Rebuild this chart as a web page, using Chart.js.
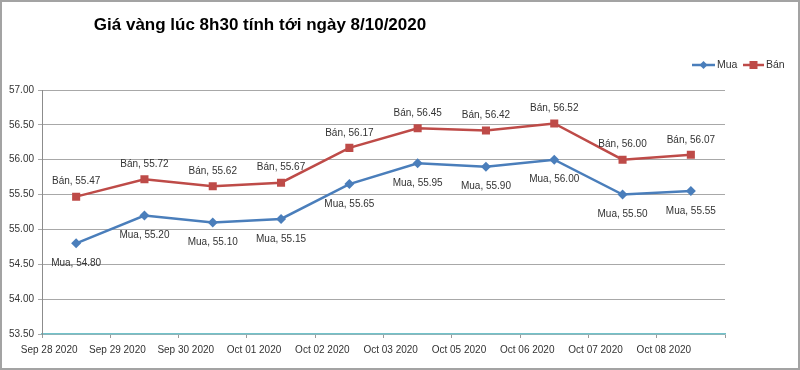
<!DOCTYPE html>
<html lang="vi">
<head>
<meta charset="utf-8">
<title>Giá vàng lúc 8h30</title>
<script src="https://cdn.jsdelivr.net/npm/chart.js@4.4.1/dist/chart.umd.min.js"></script>
<style>
  html, body { margin: 0; padding: 0; background: #fff; }
  #wrap { position: relative; width: 800px; height: 370px; }
  #frame { position: absolute; inset: 0; border: 2px solid #a3a3a3; box-sizing: border-box; pointer-events: none; }
</style>
</head>
<body>
<div id="wrap"><canvas id="gia"></canvas><div id="frame"></div></div>
<script>
// dữ liệu
const ngay = ['Sep 28 2020', 'Sep 29 2020', 'Sep 30 2020', 'Oct 01 2020', 'Oct 02 2020',
              'Oct 03 2020', 'Oct 05 2020', 'Oct 06 2020', 'Oct 07 2020', 'Oct 08 2020'];
const mua = [54.80, 55.20, 55.10, 55.15, 55.65, 55.95, 55.90, 56.00, 55.50, 55.55];
const ban = [55.47, 55.72, 55.62, 55.67, 56.17, 56.45, 56.42, 56.52, 56.00, 56.07];
const yMin = 53.5, yMax = 57.0, yStep = 0.5;

const tieuDe = 'Giá vàng lúc 8h30 tính tới ngày 8/10/2020';
const FONT = "'Liberation Sans', Arial, sans-serif";
const XANH = '#4a7ebb', DO = '#be4b48', CHU = '#333333';

// nhãn dữ liệu kiểu Excel: "Mua, 54.80" dưới điểm, "Bán, 55.47" trên điểm
const nhanDuLieu = {
  id: 'nhanDuLieu',
  afterDatasetsDraw(chart) {
    const ctx = chart.ctx;
    ctx.save();
    ctx.font = '10px ' + FONT;
    ctx.fillStyle = CHU;
    ctx.textAlign = 'center';
    ctx.textBaseline = 'middle';
    chart.data.datasets.forEach((ds, i) => {
      chart.getDatasetMeta(i).data.forEach((pt, j) => {
        const dy = ds.label === 'Mua' ? 20 : -15;
        ctx.fillText(ds.label + ', ' + ds.data[j].toFixed(2), pt.x, pt.y + dy);
      });
    });
    ctx.restore();
  }
};

// tiêu đề + chú giải vẽ tay (đường có điểm đánh dấu ở giữa)
const khung = {
  id: 'khung',
  afterDraw(chart) {
    const ctx = chart.ctx;
    ctx.save();
    ctx.fillStyle = '#000';
    ctx.font = 'bold 17px ' + FONT;
    ctx.textAlign = 'center';
    ctx.textBaseline = 'middle';
    ctx.fillText(tieuDe, 260, 25);

    const y = 65;
    const items = [
      { label: 'Mua', color: XANH, x0: 692, x1: 715, shape: 'diamond' },
      { label: 'Bán', color: DO, x0: 743, x1: 764, shape: 'square' },
    ];
    ctx.font = '10.5px ' + FONT;
    ctx.textAlign = 'left';
    items.forEach(it => {
      ctx.strokeStyle = it.color;
      ctx.lineWidth = 2.5;
      ctx.beginPath(); ctx.moveTo(it.x0, y); ctx.lineTo(it.x1, y); ctx.stroke();
      const cx = (it.x0 + it.x1) / 2;
      ctx.fillStyle = it.color;
      ctx.beginPath();
      if (it.shape === 'diamond') {
        ctx.moveTo(cx, y - 4); ctx.lineTo(cx + 4, y); ctx.lineTo(cx, y + 4); ctx.lineTo(cx - 4, y);
        ctx.closePath();
      } else {
        ctx.rect(cx - 4, y - 4, 8, 8);
      }
      ctx.fill();
      ctx.fillStyle = CHU;
      ctx.fillText(it.label, it.x1 + 2, y);
    });
    ctx.restore();
  }
};

new Chart(document.getElementById('gia'), {
  type: 'line',
  data: {
    labels: ngay,
    datasets: [
      { label: 'Mua', data: mua, borderColor: XANH, backgroundColor: XANH, borderWidth: 2.5,
        pointStyle: 'rectRot', pointRadius: 5, pointBorderWidth: 0, tension: 0 },
      { label: 'Bán', data: ban, borderColor: DO, backgroundColor: DO, borderWidth: 2.5,
        pointStyle: 'rect', pointRadius: 5.7, pointBorderWidth: 0, tension: 0 },
    ],
  },
  options: {
    responsive: true,
    maintainAspectRatio: false,
    animation: false,
    layout: { padding: { top: 90, right: 75, left: 0, bottom: 0 } },
    plugins: { legend: { display: false }, title: { display: false }, tooltip: { enabled: false } },
    scales: {
      x: {
        offset: true,
        grid: { offset: true, drawOnChartArea: false, drawTicks: true, tickLength: 4, color: '#9a9a9a' },
        border: { color: '#72c2ca', width: 1.5 },
        ticks: { color: CHU, font: { family: FONT, size: 10 }, labelOffset: -27, maxRotation: 0, autoSkip: false, padding: 6 },
        afterFit: s => { s.height = 36; },
      },
      y: {
        min: yMin, max: yMax,
        grid: { color: '#a8a8a8', tickLength: 4 },
        border: { color: '#8c8c8c' },
        ticks: { stepSize: yStep, color: CHU, font: { family: FONT, size: 10 }, padding: 4,
                 callback: v => Number(v).toFixed(2) },
        afterFit: s => { s.width = 42; },
      },
    },
  },
  plugins: [nhanDuLieu, khung],
});
</script>
</body>
</html>
